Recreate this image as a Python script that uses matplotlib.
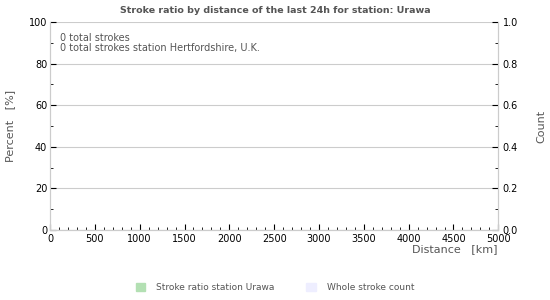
import matplotlib.pyplot as plt
from matplotlib.patches import Patch
from matplotlib.ticker import MultipleLocator
import numpy as np

# distance bins (km) and values -- no strokes in the last 24h
distance = np.arange(0, 5000, 100)
ratio = np.zeros(len(distance))
count = np.zeros(len(distance))
total_strokes = 0
station_strokes = 0
station = "Urawa"
home = "Hertfordshire, U.K."

grey = '#555555'
fig = plt.figure(figsize=(5.5, 3), dpi=100)
ax = fig.add_axes([0.091, 0.233, 0.815, 0.694])
ax2 = ax.twinx()

ax.bar(distance + 50, ratio, width=90, color='#b3e0b3')
ax2.bar(distance + 50, count, width=90, color='#eeeeff')

ax.set_xlim(0, 5000)
ax.set_ylim(0, 100)
ax2.set_ylim(0, 1)
ax.xaxis.set_major_locator(MultipleLocator(500))
ax.xaxis.set_minor_locator(MultipleLocator(100))
ax.yaxis.set_major_locator(MultipleLocator(20))
ax.yaxis.set_minor_locator(MultipleLocator(10))
ax2.yaxis.set_major_locator(MultipleLocator(0.2))
ax2.yaxis.set_minor_locator(MultipleLocator(0.1))
ax2.yaxis.set_major_formatter(plt.FormatStrFormatter('%.1f'))

ax.grid(axis='y', color='#cccccc', linewidth=0.8)
ax.set_axisbelow(True)
for a in (ax, ax2):
    for s in a.spines.values():
        s.set_color('#cccccc')
    a.tick_params(which='major', direction='in', length=4, labelsize=7, pad=2, color='black')
    a.tick_params(which='minor', direction='in', length=2, color='black')
ax.tick_params(axis='x', pad=3)
ax2.tick_params(axis='y', pad=3)
ax.spines['top'].set_visible(False)
ax2.spines['top'].set_visible(False)

fig.text(0.5, 0.965, f"Stroke ratio by distance of the last 24h for station: {station}",
         ha='center', va='center', fontsize=6.8, fontweight='bold', color=grey)
ax.text(0.022, 0.945, f"{total_strokes} total strokes\n{station_strokes} total strokes station {home}",
        transform=ax.transAxes, va='top', ha='left', fontsize=7, color=grey, linespacing=1.0)

fig.text(0.018, 0.58, "Percent   [%]", rotation=90, ha='center', va='center', fontsize=8, color=grey)
fig.text(0.985, 0.58, "Count", rotation=90, ha='center', va='center', fontsize=8, color=grey)
fig.text(0.905, 0.17, "Distance   [km]", ha='right', va='center', fontsize=8, color=grey)

handles = [Patch(color='#b3e0b3'), Patch(color='#eeeeff')]
fig.legend(handles, [f"Stroke ratio station {station}", "Whole stroke count"],
           loc='center', bbox_to_anchor=(0.5, 0.042), ncol=2, frameon=False,
           fontsize=6.5, labelcolor=grey, handlelength=1.1, handleheight=1.1,
           columnspacing=3.5, handletextpad=1.2)

fig.savefig('out.png', dpi=100)
